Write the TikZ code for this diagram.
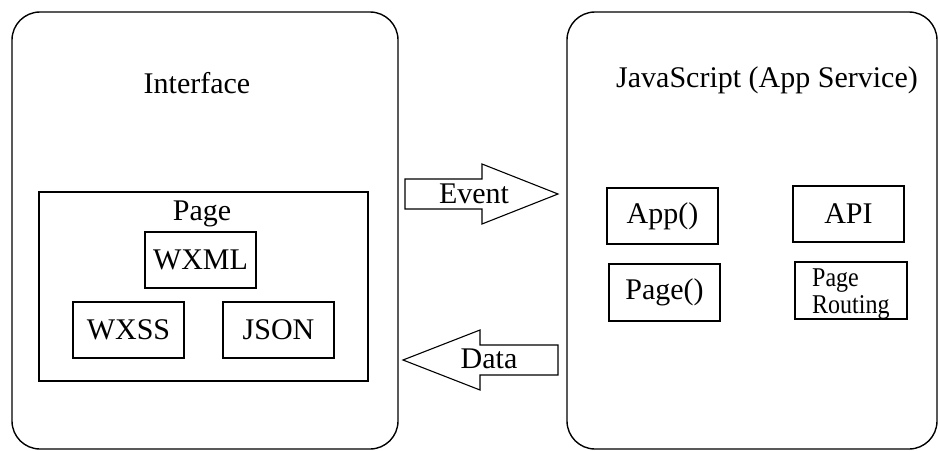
\documentclass[tikz,border=0pt]{standalone}
\usepackage{fontspec}
\usepackage{graphicx}
\setmainfont{Liberation Serif}
\begin{document}
\begin{tikzpicture}[x=1pt,y=-1pt,
  container/.style={draw, line width=1.4pt, rounded corners=28pt, inner sep=0pt},
  box/.style={draw, line width=1.6pt, inner sep=0pt, font=\fontsize{30}{35}\selectfont},
  heading/.style={anchor=base, inner sep=0pt, font=\fontsize{30}{35}\selectfont},
  blockarrow/.style={draw, line width=1.1pt, fill=white, line join=miter}]
\useasboundingbox (0,0) rectangle (940,450);

% two containers
\node[container, minimum width=386pt, minimum height=437pt] (iface) at (205,230.5) {};
\node[container, minimum width=370pt, minimum height=437pt] (jsside) at (752,230.5) {};

\node[heading] (ifacetitle) at (197,93) {Interface};
\node[heading] (jstitle) at (767,87) {JavaScript (App Service)};

% page and its files
\node[draw, line width=1.6pt, minimum width=329pt, minimum height=189pt] (pagebox) at (203.5,286.5) {};
\node[heading] (pagetitle) at (202,220) {Page};
\node[box, minimum width=111pt, minimum height=56pt] (wxml) at (200.5,260) {WXML};
\node[box, minimum width=111pt, minimum height=56pt] (wxss) at (128.5,330) {WXSS};
\node[box, minimum width=111pt, minimum height=56pt] (json) at (278.5,330) {JSON};

% service side
\node[box, minimum width=111pt, minimum height=56pt] (app) at (662.5,216) {App()};
\node[box, minimum width=111pt, minimum height=57pt] (pagefn) at (664.5,292.5) {Page()};
\node[box, minimum width=111pt, minimum height=56pt] (api) at (848.5,214) {API};
\node[draw, line width=1.6pt, minimum width=112pt, minimum height=57pt] (routing) at (851,290.5) {};
% two-line label, set a little taller than wide
\node[anchor=base west, inner sep=0pt, font=\fontsize{24}{24}\selectfont] (routingtext) at (812,286)
  {\scalebox{1}[1.13]{\begin{tabular}[t]{@{}l@{}}Page\\Routing\end{tabular}}};

% block arrows between the two sides
\draw[blockarrow] (405,179) -- (482,179) -- (482,164) -- (558,194)
  -- (482,224) -- (482,209) -- (405,209) -- cycle;
\node[heading] (eventlbl) at (474,203) {Event};

\draw[blockarrow] (558,345) -- (480,345) -- (480,330) -- (403,360)
  -- (480,390) -- (480,375) -- (558,375) -- cycle;
\node[heading] (datalbl) at (489,368) {Data};
\end{tikzpicture}
\end{document}
